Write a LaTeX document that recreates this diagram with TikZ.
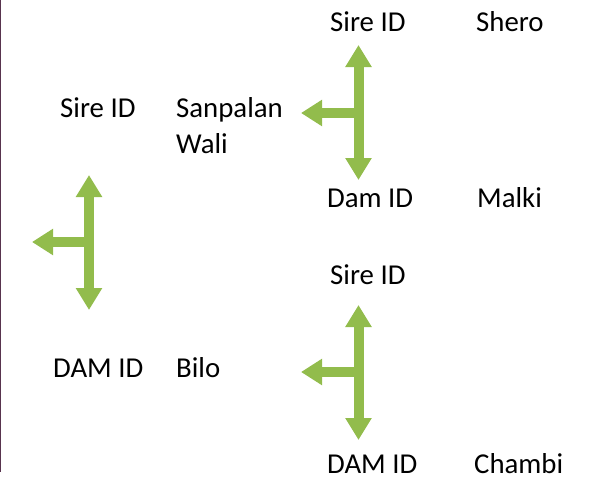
\documentclass[tikz,border=0pt]{standalone}
\usepackage{fontspec}
\setmainfont{Carlito}
\usepackage{tikz}
\usetikzlibrary{arrows.meta}
\definecolor{leafgreen}{RGB}{146,188,76}
\definecolor{edgeplum}{RGB}{88,52,78}

\begin{document}
\begin{tikzpicture}[x=1pt, y=-1pt,
    lbl/.style={anchor=base west, inner sep=0pt, font=\fontsize{28.8}{36}\selectfont},
    twoway/.style={{Triangle[length=22pt,width=25pt]}-{Triangle[length=22pt,width=25pt]}, line width=10pt, leafgreen},
    oneway/.style={-{Triangle[length=21pt,width=25pt]}, line width=9.5pt, leafgreen}
]
\useasboundingbox (0,0) rectangle (598,479);
\fill[edgeplum] (0,0) rectangle (1.2,472);

% left: parents of the animal
\node[lbl] (sire) at (60,117) {Sire ID};
\node[lbl, align=left] (sanpalan) at (176,153) {Sanpalan\\Wali};
\node[lbl] (dam) at (53,377) {DAM ID};
\node[lbl] (bilo) at (176,377) {Bilo};

% top right: parents of the sire
\node[lbl] (sire2) at (330,31) {Sire ID};
\node[lbl] (shero) at (476,31) {Shero};
\node[lbl] (dam2) at (327,207) {Dam ID};
\node[lbl] (malki) at (477,207) {Malki};

% bottom right: parents of the dam
\node[lbl] (sire3) at (330,284) {Sire ID};
\node[lbl] (dam3) at (327,473) {DAM ID};
\node[lbl] (chambi) at (474,473) {Chambi};

% arrow points
\coordinate (a1t) at (89,175);
\coordinate (a1b) at (89,310);
\coordinate (a1m) at (89,242);
\coordinate (a1l) at (32,242);
\coordinate (a2t) at (358.5,45);
\coordinate (a2b) at (358.5,180);
\coordinate (a2m) at (358.5,113);
\coordinate (a2l) at (301,113);
\coordinate (a3t) at (358.5,305);
\coordinate (a3b) at (358.5,440);
\coordinate (a3m) at (358.5,372);
\coordinate (a3l) at (301,372);

\draw[twoway] (a1t) -- (a1b);
\draw[oneway] (a1m) -- (a1l);
\draw[twoway] (a2t) -- (a2b);
\draw[oneway] (a2m) -- (a2l);
\draw[twoway] (a3t) -- (a3b);
\draw[oneway] (a3m) -- (a3l);
\end{tikzpicture}
\end{document}
